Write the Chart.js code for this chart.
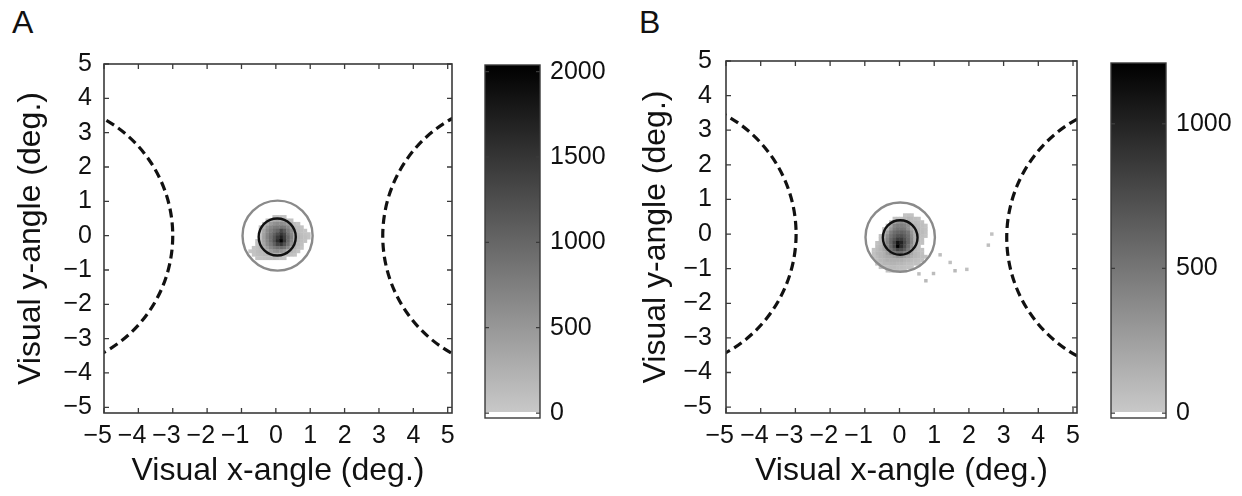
<!DOCTYPE html>
<html><head><meta charset="utf-8">
<script src="https://cdn.jsdelivr.net/npm/chart.js@4.4.1/dist/chart.umd.min.js"></script>
<style>
html,body{margin:0;padding:0;background:#fff;width:1242px;height:496px;overflow:hidden;position:relative;}
canvas{position:absolute;top:0;}
.lbl{position:absolute;font-family:'Liberation Sans',Arial,sans-serif;font-size:32px;color:#111;line-height:1;}
</style></head><body>
<div class="lbl" style="left:12px;top:6px">A</div>
<div class="lbl" style="left:639px;top:6px">B</div>
<canvas id="mainA" width="470" height="496" style="left:0px"></canvas>
<canvas id="barA" width="150" height="496" style="left:470px"></canvas>
<canvas id="mainB" width="470" height="496" style="left:620px"></canvas>
<canvas id="barB" width="152" height="496" style="left:1090px"></canvas>
<script>
// ---------- DATA ----------
const xTickValues = [-5,-4,-3,-2,-1,0,1,2,3,4,5];
const yTickValues = [-5,-4,-3,-2,-1,0,1,2,3,4,5];
const xTitle = 'Visual x-angle (deg.)';
const yTitle = 'Visual y-angle (deg.)';

// Panel A
const aXLimits = [-5, 5.125];
const aYLimits = [-5.166, 5];
const aColorLimits = [-29, 2039];
const aColorTicks = [0, 500, 1000, 1500, 2000];
const aGridX0 = -0.8, aGridY0 = 0.6, aCell = 0.1;   // top-left corner of the count grid (deg.)
const aCounts = [
  [0,0,0,0,0,0,0,40,60,50,40,0,0,0,0,0,0,0],
  [0,0,0,0,0,40,120,300,350,350,300,100,60,0,0,0,0,0],
  [0,0,0,0,60,250,450,550,600,600,550,450,200,80,40,0,0,0],
  [0,0,0,40,200,500,650,750,800,850,800,650,450,150,100,60,0,0],
  [0,0,0,60,350,600,750,900,1000,1300,1100,800,600,250,120,80,40,0],
  [0,0,0,80,400,650,850,1050,1250,1500,1300,900,650,300,150,100,60,30],
  [0,0,0,100,420,680,900,1150,1450,1700,1400,1000,700,300,180,120,80,40],
  [0,0,40,120,400,650,900,1200,1600,2000,1500,1000,650,280,160,100,60,0],
  [0,0,60,150,350,600,800,1050,1350,1500,1200,900,550,250,150,80,0,0],
  [0,40,80,150,250,450,650,800,900,950,850,650,350,200,100,40,0,0],
  [30,60,120,150,150,300,450,550,600,550,450,250,180,120,50,0,0,0],
  [0,50,100,120,150,160,200,250,250,200,150,120,80,40,0,0,0,0],
  [0,0,40,60,80,100,100,120,80,60,40,0,0,0,0,0,0,0]
];
const aDotX = [], aDotY = [], aDotV = [];
const aCircleCX = [0.05, 0.04], aCircleCY = [0, -0.04], aCircleR = [1.02, 0.54];
const aArcCX = [-6.89, 7.02], aArcCY = [0, -0.01], aArcR = [3.89, 3.91];

// Panel B
const bXLimits = [-5, 5.115];
const bYLimits = [-5.17, 5];
const bColorLimits = [-17, 1210];
const bColorTicks = [0, 500, 1000];
const bGridX0 = -0.9, bGridY0 = 0.6, bCell = 0.1;
const bCounts = [
  [0,0,0,0,0,0,0,0,0,0,30,40,30,0,0,0,0,0,0],
  [0,0,0,0,0,0,0,30,40,60,80,100,80,60,40,0,0,0,0],
  [0,0,0,0,0,0,40,150,300,350,300,200,80,80,60,40,0,0,0],
  [0,0,0,0,0,40,200,400,450,450,420,350,150,100,80,60,30,0,0],
  [0,0,0,0,30,100,300,450,500,500,480,350,200,120,100,60,40,0,0],
  [0,0,0,0,60,250,450,550,600,620,580,500,300,150,100,80,40,0,0],
  [0,0,0,40,100,350,520,620,700,720,650,550,350,150,100,60,30,0,0],
  [0,0,0,60,150,400,580,700,850,850,720,580,380,150,80,50,0,0,0],
  [0,0,40,80,180,420,600,800,1100,1000,780,600,400,150,80,40,0,0,0],
  [0,0,60,100,200,400,580,780,1210,950,750,550,350,120,60,0,0,0,0],
  [0,30,80,120,200,350,520,650,800,750,650,480,300,100,60,40,0,0,0],
  [0,40,100,120,150,250,380,500,550,550,450,350,200,100,80,50,0,0,0],
  [0,30,80,120,150,180,200,250,300,300,250,200,150,100,80,60,40,0,0],
  [0,0,60,100,120,150,150,150,150,150,120,100,80,60,50,40,0,0,0],
  [0,0,30,60,100,100,120,120,100,100,80,60,50,40,30,0,0,0,0],
  [0,0,0,30,50,60,80,80,60,60,50,40,30,0,0,0,0,0,0],
  [0,0,0,0,0,30,40,40,40,30,30,0,0,0,0,0,0,0,0]
];
const bDotX = [0.56, 0.76, 0.98, 1.17, 1.46, 1.6, 1.94, 2.56, 2.66];
const bDotY = [-1.15, -1.35, -1.14, -0.6, -0.82, -1.06, -1.02, -0.32, 0.0];
const bDotV = [60, 90, 70, 60, 50, 90, 50, 60, 40];
const bCircleCX = [0.02, 0.02], bCircleCY = [-0.09, -0.1], bCircleR = [1.0, 0.5];
const bArcCX = [-6.9, 6.99], bArcCY = [0, -0.1], bArcR = [3.92, 3.9];

// ---------- STYLE ----------
const FONT = "'Liberation Sans', Arial, Helvetica, sans-serif";
const tickFont = {family: FONT, size: 25};
const titleFont = {family: FONT, size: 32};
const INK = '#111';
const FRAME = '#3a3a3a';
const circleColors = ['#8a8a8a', '#111111'];

function grayOf(v, vmax) {
  const g = Math.max(0, Math.round(200 * (1 - Math.min(v, vmax) / vmax)));
  return 'rgb(' + g + ',' + g + ',' + g + ')';
}
function fmtX(v) { return v < 0 ? '\u2212' + Math.abs(v) + '\u2002' : String(v); }
function fmtY(v) { return v < 0 ? '\u2212' + Math.abs(v) : String(v); }

function mainLayer(P) {
  return {
    id: 'mainLayer',
    beforeDatasetsDraw(chart) {
      const ctx = chart.ctx, a = chart.chartArea, x = chart.scales.x, y = chart.scales.y;
      const vmax = P.cLim[1];
      ctx.save();
      ctx.beginPath(); ctx.rect(a.left, a.top, a.right - a.left, a.bottom - a.top); ctx.clip();
      // heat map cells
      P.counts.forEach((row, r) => row.forEach((v, c) => {
        if (v <= 0) return;
        const x0 = P.gx0 + c * P.cell, y0 = P.gy0 - r * P.cell;
        const px0 = x.getPixelForValue(x0), px1 = x.getPixelForValue(x0 + P.cell);
        const py0 = y.getPixelForValue(y0), py1 = y.getPixelForValue(y0 - P.cell);
        ctx.fillStyle = grayOf(v, vmax);
        ctx.fillRect(px0, py0, px1 - px0 + 0.4, py1 - py0 + 0.4);
      }));
      // isolated samples
      P.dotX.forEach((dx, i) => {
        const px0 = x.getPixelForValue(dx - P.cell / 2), px1 = x.getPixelForValue(dx + P.cell / 2);
        const py0 = y.getPixelForValue(P.dotY[i] + P.cell / 2), py1 = y.getPixelForValue(P.dotY[i] - P.cell / 2);
        ctx.fillStyle = grayOf(P.dotV[i], vmax);
        ctx.fillRect(px0, py0, px1 - px0, py1 - py0);
      });
      const ell = (cx, cy, r) => {
        const px = x.getPixelForValue(cx), py = y.getPixelForValue(cy);
        const rx = Math.abs(x.getPixelForValue(cx + r) - px), ry = Math.abs(y.getPixelForValue(cy + r) - py);
        ctx.beginPath(); ctx.ellipse(px, py, rx, ry, 0, 0, Math.PI * 2); ctx.stroke();
      };
      // dashed arcs
      ctx.strokeStyle = '#111'; ctx.lineWidth = 3.2; ctx.setLineDash([9, 5]);
      P.arcCX.forEach((cx, i) => ell(cx, P.arcCY[i], P.arcR[i]));
      ctx.setLineDash([]);
      // circles
      ctx.lineWidth = 2.4;
      P.circCX.forEach((cx, i) => { ctx.strokeStyle = circleColors[i]; ell(cx, P.circCY[i], P.circR[i]); });
      ctx.restore();
      // frame
      ctx.save();
      ctx.strokeStyle = FRAME; ctx.lineWidth = 1.6;
      ctx.strokeRect(a.left, a.top, a.right - a.left, a.bottom - a.top);
      ctx.lineWidth = 1.3;
      const tl = 5;
      ctx.beginPath();
      x.ticks.forEach(t => {
        const px = x.getPixelForValue(t.value);
        ctx.moveTo(px, a.bottom); ctx.lineTo(px, a.bottom - tl);
        ctx.moveTo(px, a.top); ctx.lineTo(px, a.top + tl);
      });
      y.ticks.forEach(t => {
        const py = y.getPixelForValue(t.value);
        ctx.moveTo(a.left, py); ctx.lineTo(a.left + tl, py);
        ctx.moveTo(a.right, py); ctx.lineTo(a.right - tl, py);
      });
      ctx.stroke();
      ctx.restore();
    }
  };
}

function makeMain(id, P, L) {
  return new Chart(document.getElementById(id), {
    type: 'scatter',
    data: {datasets: []},
    options: {
      responsive: false, animation: false, devicePixelRatio: 1, events: [],
      layout: {padding: {left: 0, top: L.top, right: L.right, bottom: 0}},
      plugins: {legend: {display: false}, tooltip: {enabled: false}},
      scales: {
        x: {type: 'linear', position: 'bottom', min: P.xLim[0], max: P.xLim[1],
            grid: {display: false, drawTicks: false}, border: {display: false},
            afterBuildTicks: s => { s.ticks = xTickValues.map(v => ({value: v})); },
            afterFit: s => { s.height = L.xAxisH; },
            ticks: {font: tickFont, color: INK, padding: L.xTickPad, maxRotation: 0, minRotation: 0, autoSkip: false, callback: fmtX},
            title: {display: true, text: xTitle, font: titleFont, color: INK, padding: {top: 0, bottom: L.xTitlePad}}},
        y: {type: 'linear', position: 'left', min: P.yLim[0], max: P.yLim[1],
            grid: {display: false, drawTicks: false}, border: {display: false},
            afterBuildTicks: s => { s.ticks = yTickValues.map(v => ({value: v})); },
            afterFit: s => { s.width = L.yAxisW; },
            ticks: {font: tickFont, color: INK, padding: L.yTickPad, autoSkip: false, callback: fmtY},
            title: {display: true, text: yTitle, font: titleFont, color: INK, padding: {top: L.yTitlePad, bottom: 0}}}
      }
    },
    plugins: [mainLayer(P)]
  });
}

function barLayer(lim, tickVals) {
  return {
    id: 'barLayer',
    beforeDatasetsDraw(chart) {
      const ctx = chart.ctx, a = chart.chartArea, y = chart.scales.y;
      const h = a.bottom - a.top, w = a.right - a.left;
      const whiteTop = y.getPixelForValue(lim[0] + (lim[1] - lim[0]) / 64);
      const f = (a.bottom - whiteTop) / h;
      const g = ctx.createLinearGradient(0, a.bottom, 0, a.top);
      g.addColorStop(0, '#ffffff'); g.addColorStop(f, '#ffffff');
      g.addColorStop(Math.min(1, f + 0.002), 'rgb(200,200,200)');
      g.addColorStop(1, '#000000');
      ctx.save();
      ctx.fillStyle = g; ctx.fillRect(a.left, a.top, w, h);
      ctx.strokeStyle = FRAME; ctx.lineWidth = 1.4;
      ctx.strokeRect(a.left, a.top, w, h);
      ctx.lineWidth = 1.3; ctx.beginPath();
      tickVals.forEach(v => {
        const py = y.getPixelForValue(v);
        ctx.moveTo(a.left, py); ctx.lineTo(a.left + 4, py);
        ctx.moveTo(a.right, py); ctx.lineTo(a.right - 4, py);
      });
      ctx.stroke();
      ctx.restore();
    }
  };
}

function makeBar(id, lim, tickVals, L) {
  return new Chart(document.getElementById(id), {
    type: 'scatter',
    data: {datasets: []},
    options: {
      responsive: false, animation: false, devicePixelRatio: 1, events: [],
      layout: {padding: {left: L.left, top: L.top, right: 0, bottom: L.bottom}},
      plugins: {legend: {display: false}, tooltip: {enabled: false}},
      scales: {
        x: {display: false, type: 'linear', min: 0, max: 1},
        y: {type: 'linear', position: 'right', min: lim[0], max: lim[1],
            grid: {display: false, drawTicks: false}, border: {display: false},
            afterBuildTicks: s => { s.ticks = tickVals.map(v => ({value: v})); },
            afterFit: s => { s.width = L.axisW; },
            ticks: {font: tickFont, color: INK, padding: L.tickPad, autoSkip: false, callback: v => String(v)}}
      }
    },
    plugins: [barLayer(lim, tickVals)]
  });
}

makeMain('mainA', {
  xLim: aXLimits, yLim: aYLimits, cLim: aColorLimits, counts: aCounts, gx0: aGridX0, gy0: aGridY0, cell: aCell,
  dotX: aDotX, dotY: aDotY, dotV: aDotV, circCX: aCircleCX, circCY: aCircleCY, circR: aCircleR,
  arcCX: aArcCX, arcCY: aArcCY, arcR: aArcR
}, {top: 64, right: 18, xAxisH: 83, yAxisW: 104, xTickPad: 8, xTitlePad: 6, yTickPad: 12, yTitlePad: 12});

makeMain('mainB', {
  xLim: bXLimits, yLim: bYLimits, cLim: bColorLimits, counts: bCounts, gx0: bGridX0, gy0: bGridY0, cell: bCell,
  dotX: bDotX, dotY: bDotY, dotV: bDotV, circCX: bCircleCX, circCY: bCircleCY, circR: bCircleR,
  arcCX: bArcCX, arcCY: bArcCY, arcR: bArcR
}, {top: 61, right: 13, xAxisH: 83, yAxisW: 106, xTickPad: 8, xTitlePad: 6, yTickPad: 14, yTitlePad: 17});

makeBar('barA', aColorLimits, aColorTicks, {left: 15, top: 65, bottom: 78, axisW: 80, tickPad: 10});
makeBar('barB', bColorLimits, bColorTicks, {left: 21, top: 63, bottom: 78, axisW: 76, tickPad: 10});
</script>
</body></html>
